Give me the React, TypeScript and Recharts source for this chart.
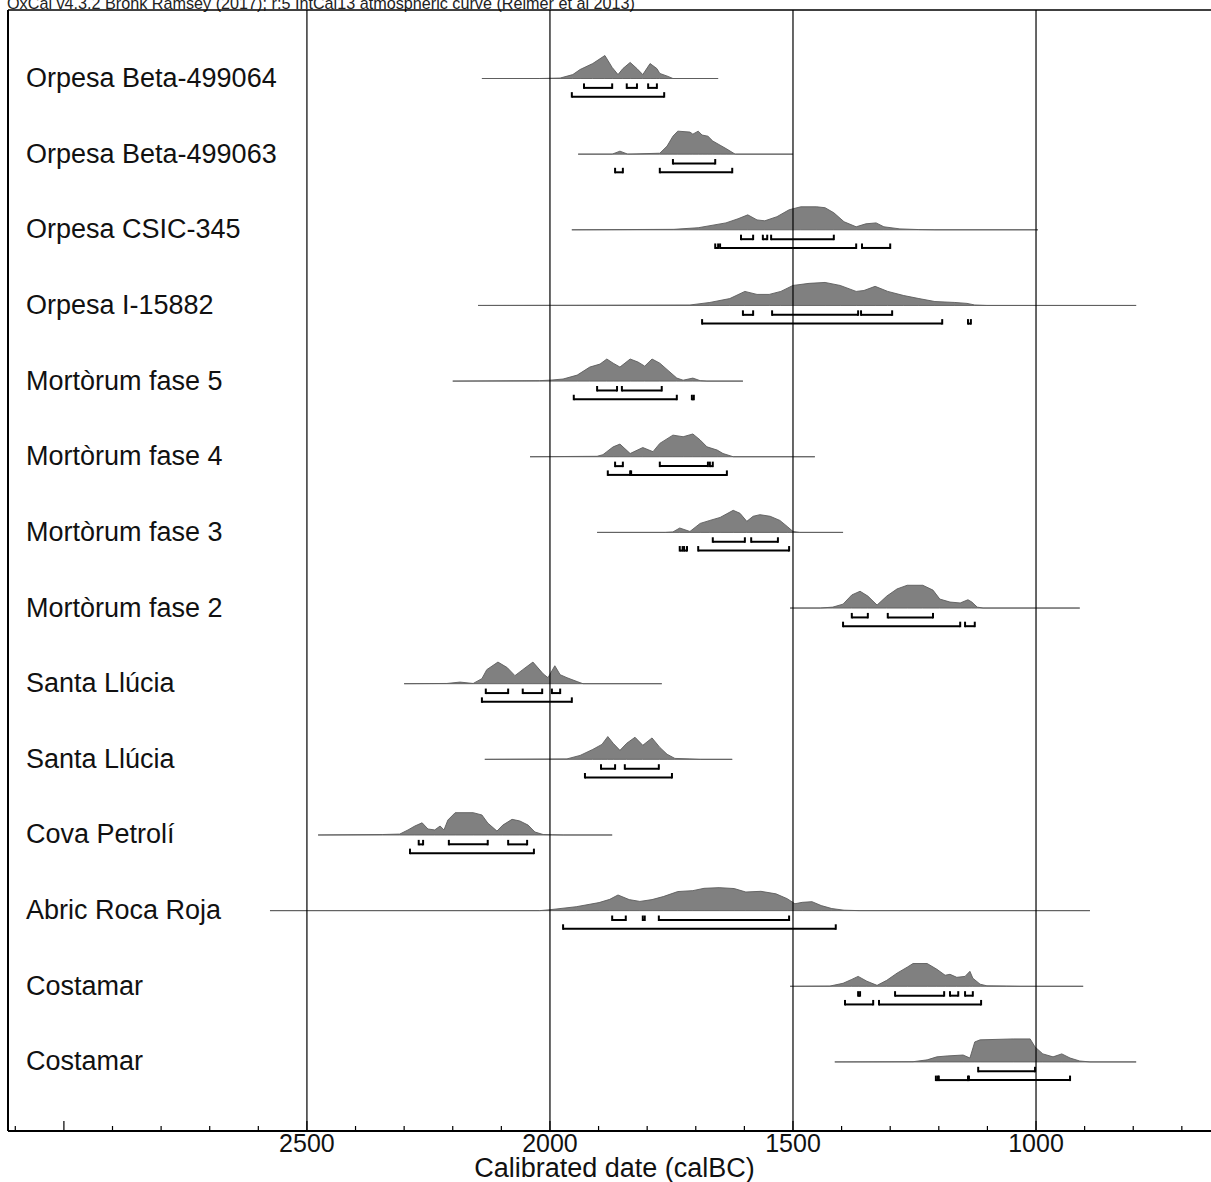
import React from 'react';
import { ComposedChart, Area, Line, XAxis, YAxis, ReferenceLine } from 'recharts';

const FONT = '"Liberation Sans", Arial, Helvetica, sans-serif';

const titleText = 'OxCal v4.3.2 Bronk Ramsey (2017); r:5 IntCal13 atmospheric curve (Reimer et al 2013)';
const axisTitle = 'Calibrated date (calBC)';

const rowLabels = [
  'Orpesa Beta-499064',
  'Orpesa Beta-499063',
  'Orpesa CSIC-345',
  'Orpesa I-15882',
  'Mortòrum fase 5',
  'Mortòrum fase 4',
  'Mortòrum fase 3',
  'Mortòrum fase 2',
  'Santa Llúcia',
  'Santa Llúcia',
  'Cova Petrolí',
  'Abric Roca Roja',
  'Costamar',
  'Costamar',
];

// [calBC year, relative probability]
const orpesa064 = [[2140,0],[2021,0],[1979,0.02],[1953,0.17],[1938,0.39],[1912,0.65],[1887,1.0],[1872,0.48],[1860,0.17],[1850,0.43],[1835,0.7],[1821,0.43],[1809,0.17],[1794,0.65],[1780,0.43],[1774,0.22],[1757,0.09],[1747,0],[1654,0]];
const orpesa063 = [[1942,0],[1872,0],[1856,0.13],[1840,0],[1774,0.04],[1759,0.35],[1747,0.78],[1737,1.0],[1712,0.96],[1706,0.87],[1695,1.0],[1687,0.83],[1675,0.78],[1665,0.57],[1650,0.39],[1636,0.22],[1619,0],[1500,0]];
const orpesaCsic = [[1955,0],[1745,0.02],[1695,0.09],[1638,0.3],[1613,0.48],[1593,0.65],[1574,0.43],[1558,0.39],[1533,0.57],[1508,0.87],[1484,1.0],[1451,1.0],[1434,0.96],[1416,0.74],[1395,0.35],[1370,0.13],[1350,0.26],[1329,0.3],[1313,0.13],[1280,0.04],[1241,0.01],[1208,0],[996,0]];
const orpesaI = [[2148,0],[1712,0.02],[1671,0.13],[1630,0.3],[1599,0.61],[1574,0.48],[1549,0.48],[1525,0.61],[1500,0.87],[1467,0.96],[1434,1.0],[1403,0.87],[1370,0.61],[1354,0.65],[1331,0.83],[1305,0.61],[1272,0.43],[1241,0.3],[1208,0.17],[1167,0.13],[1142,0.09],[1126,0.02],[1101,0],[794,0]];
const mort5 = [[2200,0],[2021,0.02],[2000,0.04],[1973,0.09],[1944,0.26],[1918,0.61],[1897,0.74],[1883,0.96],[1870,0.78],[1856,0.61],[1835,0.96],[1819,0.83],[1805,0.65],[1790,0.96],[1774,0.78],[1753,0.39],[1739,0.13],[1726,0.04],[1706,0.13],[1691,0.02],[1677,0],[1603,0]];
const mort4 = [[2041,0],[1903,0.02],[1891,0.09],[1883,0.22],[1870,0.43],[1856,0.55],[1835,0.14],[1809,0.4],[1788,0.22],[1774,0.58],[1747,0.94],[1726,0.87],[1706,0.99],[1691,0.73],[1677,0.43],[1656,0.29],[1644,0.14],[1623,0],[1455,0]];
const mort3 = [[1903,0],[1763,0],[1747,0.02],[1733,0.19],[1712,0.04],[1691,0.39],[1671,0.52],[1650,0.65],[1623,0.96],[1609,0.83],[1595,0.48],[1582,0.7],[1568,0.77],[1547,0.7],[1527,0.52],[1512,0.26],[1500,0.04],[1486,0],[1397,0]];
const mort2 = [[1506,0],[1444,0],[1418,0.04],[1397,0.17],[1379,0.57],[1362,0.73],[1346,0.52],[1327,0.13],[1307,0.52],[1286,0.83],[1265,0.99],[1233,0.99],[1212,0.78],[1198,0.39],[1177,0.26],[1156,0.22],[1140,0.36],[1132,0.26],[1121,0.04],[1109,0],[910,0]];
const llucia1 = [[2300,0],[2212,0.01],[2185,0.07],[2158,0.01],[2140,0.22],[2130,0.61],[2107,0.94],[2088,0.7],[2072,0.35],[2056,0.61],[2035,0.94],[2014,0.43],[2004,0.26],[1990,0.78],[1979,0.39],[1965,0.26],[1944,0.09],[1932,0],[1770,0]];
const llucia2 = [[2134,0],[1965,0.02],[1938,0.17],[1912,0.43],[1893,0.65],[1881,0.99],[1870,0.7],[1856,0.39],[1842,0.7],[1825,0.96],[1809,0.61],[1790,0.93],[1774,0.52],[1759,0.22],[1743,0.04],[1712,0.02],[1691,0],[1625,0]];
const petroli = [[2477,0],[2344,0.02],[2309,0.04],[2292,0.22],[2278,0.39],[2263,0.53],[2251,0.26],[2237,0.22],[2226,0.39],[2218,0.22],[2210,0.65],[2195,0.97],[2158,0.97],[2140,0.87],[2128,0.52],[2109,0.17],[2097,0.43],[2078,0.68],[2062,0.61],[2045,0.43],[2031,0.13],[2014,0.02],[1994,0.01],[1973,0],[1872,0]];
const rocaRoja = [[2576,0],[2021,0],[2000,0.04],[1946,0.17],[1899,0.35],[1877,0.49],[1860,0.68],[1837,0.48],[1815,0.4],[1790,0.48],[1767,0.61],[1737,0.83],[1706,0.87],[1683,0.97],[1652,1.0],[1621,0.96],[1597,0.81],[1566,0.84],[1535,0.73],[1512,0.52],[1496,0.3],[1481,0.36],[1461,0.39],[1442,0.22],[1420,0.09],[1395,0.02],[1364,0],[889,0]];
const costamar1 = [[1506,0],[1424,0.01],[1397,0.13],[1379,0.3],[1366,0.43],[1348,0.22],[1327,0.04],[1307,0.26],[1286,0.57],[1265,0.83],[1253,0.99],[1224,0.99],[1204,0.74],[1187,0.48],[1177,0.52],[1163,0.39],[1146,0.43],[1136,0.65],[1130,0.35],[1115,0.09],[1101,0.02],[1060,0.01],[1033,0],[903,0]];
const costamar2 = [[1414,0],[1253,0.01],[1224,0.09],[1204,0.22],[1183,0.26],[1150,0.3],[1136,0.17],[1126,0.87],[1115,0.96],[1047,1.0],[1012,1.0],[1002,0.65],[986,0.35],[965,0.22],[947,0.35],[930,0.17],[910,0.04],[889,0],[794,0]];

// highest posterior density ranges [from, to] calBC
const range68 = [
  [[1930,1872],[1842,1821],[1798,1780]],
  [[1747,1660]],
  [[1607,1582],[1562,1553],[1545,1416]],
  [[1603,1582],[1543,1366],[1360,1296]],
  [[1903,1862],[1852,1770]],
  [[1866,1850],[1774,1675],[1671,1665]],
  [[1665,1599],[1586,1531]],
  [[1379,1346],[1305,1212]],
  [[2132,2086],[2056,2016],[1996,1979]],
  [[1895,1866],[1846,1776]],
  [[2270,2261],[2208,2128],[2086,2047]],
  [[1872,1844],[1809,1805],[1776,1508]],
  [[1366,1362],[1290,1189],[1177,1160],[1146,1130]],
  [[1119,1002]],
];
const range95 = [
  [[1955,1765]],
  [[1866,1850],[1774,1625]],
  [[1660,1654],[1650,1370],[1358,1300]],
  [[1687,1193],[1140,1134]],
  [[1951,1739],[1708,1704]],
  [[1881,1835],[1833,1636]],
  [[1733,1727],[1724,1718],[1695,1508]],
  [[1397,1156],[1146,1126]],
  [[2140,1955]],
  [[1928,1749]],
  [[2288,2033]],
  [[1973,1412]],
  [[1393,1335],[1323,1113]],
  [[1206,1202],[1200,1140],[1138,930]],
];

const axisTicks = [3100,3000,2900,2800,2700,2600,2500,2400,2300,2200,2100,2000,1900,1800,1700,1600,1500,1400,1300,1200,1100,1000,900,800,700];
const labeledYears = [2500, 2000, 1500, 1000];
const gridYears = [2500, 2000, 1500, 1000];
const rowIndex = rowLabels.map((_, i) => i);

const densityRows = [orpesa064, orpesa063, orpesaCsic, orpesaI, mort5, mort4, mort3, mort2, llucia1, llucia2, petroli, rocaRoja, costamar1, costamar2];

const PEAK = 0.304; // row units for relative probability 1
const OFF68 = 0.124;
const OFF95 = 0.24;

const bandData = densityRows.map((row, i) =>
  row.map(([year, p]) => ({ year, band: [i - p * PEAK, i] }))
);

const bracketData: { year: number; y: number }[][] = [];
range68.forEach((ranges, i) =>
  ranges.forEach(([a, b]) => bracketData.push([{ year: a, y: i + OFF68 }, { year: b, y: i + OFF68 }]))
);
range95.forEach((ranges, i) =>
  ranges.forEach(([a, b]) => bracketData.push([{ year: a, y: i + OFF95 }, { year: b, y: i + OFF95 }]))
);

const BracketEnd = (props: any) => {
  const { cx, cy, index } = props;
  if (cx == null || cy == null) return <g key={`n${index}`} />;
  return <line key={`e${index}`} x1={cx} y1={cy + 1} x2={cx} y2={cy - 4.5} stroke="#000" strokeWidth={2} />;
};

const XTick = (props: any) => {
  const { x, y, payload } = props;
  const v = payload.value;
  const len = v % 500 === 0 ? 10 : 5;
  return (
    <g>
      <line x1={x} y1={y} x2={x} y2={y - len} stroke="#000" strokeWidth={1.2} />
      {labeledYears.includes(v) ? (
        <text x={x} y={y + 21} textAnchor="middle" fontSize={25} fontFamily={FONT} fill="#111">
          {v}
        </text>
      ) : null}
    </g>
  );
};

const YTick = (props: any) => {
  const { x, y, payload } = props;
  return (
    <text x={x + 18} y={y + 8.5} textAnchor="start" fontSize={27} fontFamily={FONT} fill="#111">
      {rowLabels[payload.value]}
    </text>
  );
};

const X_DOMAIN = [640, 3115];
const Y_DOMAIN = [-0.9055, 13.913];

export default function App() {
  return (
    <div style={{ position: 'absolute', left: 0, top: 0, width: 1211, height: 1182, background: '#fff', fontFamily: FONT }}>
      <svg width={700} height={12} style={{ position: 'absolute', left: 0, top: 0 }}>
        <text x={7} y={8.5} fontSize={16.2} fontFamily={FONT} fill="#222">{titleText}</text>
      </svg>
      <ComposedChart width={1211} height={1182} margin={{ top: 9, right: 0, bottom: 0, left: 7 }}>
        <XAxis
          xAxisId="b"
          type="number"
          dataKey="year"
          domain={X_DOMAIN}
          reversed
          allowDataOverflow
          ticks={axisTicks}
          interval={0}
          tick={XTick}
          tickLine={false}
          tickSize={0}
          tickMargin={0}
          height={51}
          axisLine={{ stroke: '#000', strokeWidth: 2 }}
          label={{ value: axisTitle, position: 'insideBottom', offset: 5, dx: 5, fontSize: 27, fill: '#111', fontFamily: FONT }}
        />
        <XAxis
          xAxisId="t"
          orientation="top"
          type="number"
          dataKey="year"
          domain={X_DOMAIN}
          reversed
          allowDataOverflow
          height={1}
          tick={false}
          tickLine={false}
          axisLine={{ stroke: '#000', strokeWidth: 1.5 }}
        />
        <YAxis
          yAxisId="r"
          type="number"
          domain={Y_DOMAIN}
          reversed
          allowDataOverflow
          width={1}
          ticks={rowIndex}
          interval={0}
          tick={YTick}
          tickLine={false}
          tickSize={0}
          tickMargin={0}
          axisLine={{ stroke: '#000', strokeWidth: 2 }}
        />
        {bandData.map((d, i) => (
          <Area
            key={`a${i}`}
            data={d}
            dataKey="band"
            xAxisId="b"
            yAxisId="r"
            type="linear"
            fill="#808080"
            fillOpacity={1}
            stroke="#5c5c5c"
            strokeWidth={0.9}
            dot={false}
            activeDot={false}
            isAnimationActive={false}
          />
        ))}
        {gridYears.map((g) => (
          <ReferenceLine key={`g${g}`} x={g} xAxisId="b" yAxisId="r" stroke="#000" strokeWidth={1.2} />
        ))}
        {bracketData.map((d, i) => (
          <Line
            key={`l${i}`}
            data={d}
            dataKey="y"
            xAxisId="b"
            yAxisId="r"
            type="linear"
            stroke="#000"
            strokeWidth={2}
            dot={BracketEnd}
            activeDot={false}
            isAnimationActive={false}
          />
        ))}
      </ComposedChart>
    </div>
  );
}
